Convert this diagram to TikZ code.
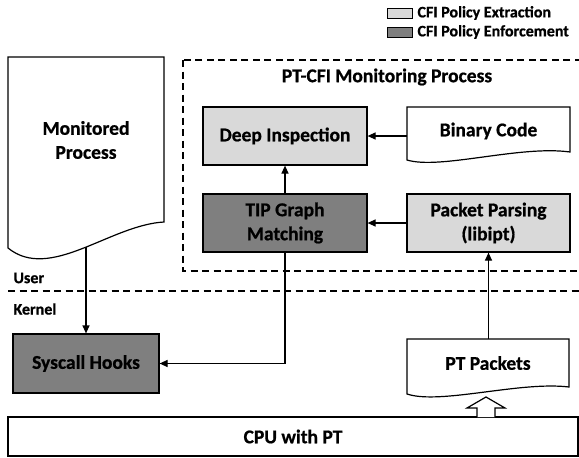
\documentclass[tikz,border=0pt]{standalone}
\usepackage{fontspec}
\setmainfont{Carlito}[BoldFeatures={FakeBold=0.8}]
\usetikzlibrary{arrows.meta}
\definecolor{extractfill}{HTML}{D9D9D9}
\definecolor{enforcefill}{HTML}{7F7F7F}
\tikzset{
  big/.style={font=\bfseries\fontsize{19.5}{24}\selectfont, align=center},
  small/.style={font=\bfseries\fontsize{16}{19}\selectfont},
  box/.style={draw, line width=1.2pt, inner sep=0pt, big},
  ghost/.style={inner sep=0pt},
  outline/.style={draw, line width=1.2pt},
  fence/.style={draw, line width=1.3pt, dash pattern=on 7pt off 4.5pt},
  flow/.style={draw, line width=1.2pt, -{Triangle[length=8pt,width=7pt]}},
  keybox/.style={draw, line width=0.8pt, minimum width=25pt, minimum height=10pt, inner sep=0pt},
}
\begin{document}
\begin{tikzpicture}[x=1pt,y=-1pt]
\useasboundingbox (0,0) rectangle (579,458);
\clip (0,0) rectangle (579,458);

% legend
\node[keybox, fill=extractfill] (key1) at (399.5,13) {};
\node[small, anchor=west] (key1t) at (414,13) {CFI Policy Extraction};
\node[keybox, fill=enforcefill] (key2) at (399.5,32) {};
\node[small, anchor=west] (key2t) at (414,32) {CFI Policy Enforcement};

% monitoring process frame
\draw[fence] (183,60) rectangle (591,271);
\node[big] (title) at (387,77) {PT-CFI Monitoring Process};

% user / kernel boundary
\draw[fence] (8,291) -- (585,291);
\node[small, anchor=west] (user) at (10,278) {User};
\node[small, anchor=west] (kernel) at (10,309) {Kernel};

% monitored process (document shape)
\draw[outline, fill=white] (8,57) -- (164,57) -- (164,222)
  .. controls (110,225) and (50,282) .. (8,248) -- cycle;
\node[big] (mon) at (86,140) {Monitored\\Process};
\coordinate (monbot) at (86,247);

% binary code (document shape)
\draw[outline, fill=white] (407,107) -- (570,107) -- (570,152)
  .. controls (520,145) and (440,170) .. (407,160) -- cycle;
\node[ghost, minimum width=163pt, minimum height=58pt] (bin) at (488.5,136) {};
\node[big] (bint) at (488.5,131) {Binary Code};

% processing boxes
\node[box, fill=extractfill, minimum width=164pt, minimum height=58pt] (deep) at (285,136) {Deep Inspection};
\node[box, fill=enforcefill, minimum width=164pt, minimum height=58pt] (tip) at (285,223) {TIP Graph\\Matching};
\node[box, fill=extractfill, minimum width=163pt, minimum height=58pt] (pp) at (488.5,223) {Packet Parsing\\(libipt)};
\node[box, fill=enforcefill, minimum width=146pt, minimum height=59pt] (sys) at (86,363.5) {Syscall Hooks};

% PT packets (document shape)
\draw[outline, fill=white] (407,339) -- (569,339) -- (569,387)
  .. controls (520,381) and (440,405) .. (407,394) -- cycle;
\node[ghost, minimum width=162pt, minimum height=58pt] (ptp) at (488,368) {};
\node[big] (ptpt) at (488,363) {PT Packets};

% CPU
\node[box, fill=white, minimum width=570pt, minimum height=39pt] (cpu) at (293,436.5) {CPU with PT};

% trace output of the CPU
\draw[outline, fill=white] (477,417) -- (477,408) -- (467,408) -- (486,397)
  -- (505,408) -- (495,408) -- (495,417);

% connectors
\draw[flow] (bin.west) -- (deep.east);
\draw[flow] (tip.north) -- (deep.south);
\draw[flow] (pp.west) -- (tip.east);
\draw[flow] (ptp.north -| pp.south) -- (pp.south);
\draw[flow] (monbot) -- (sys.north);
\draw[flow] (tip.south) |- (sys.east);
\end{tikzpicture}
\end{document}
